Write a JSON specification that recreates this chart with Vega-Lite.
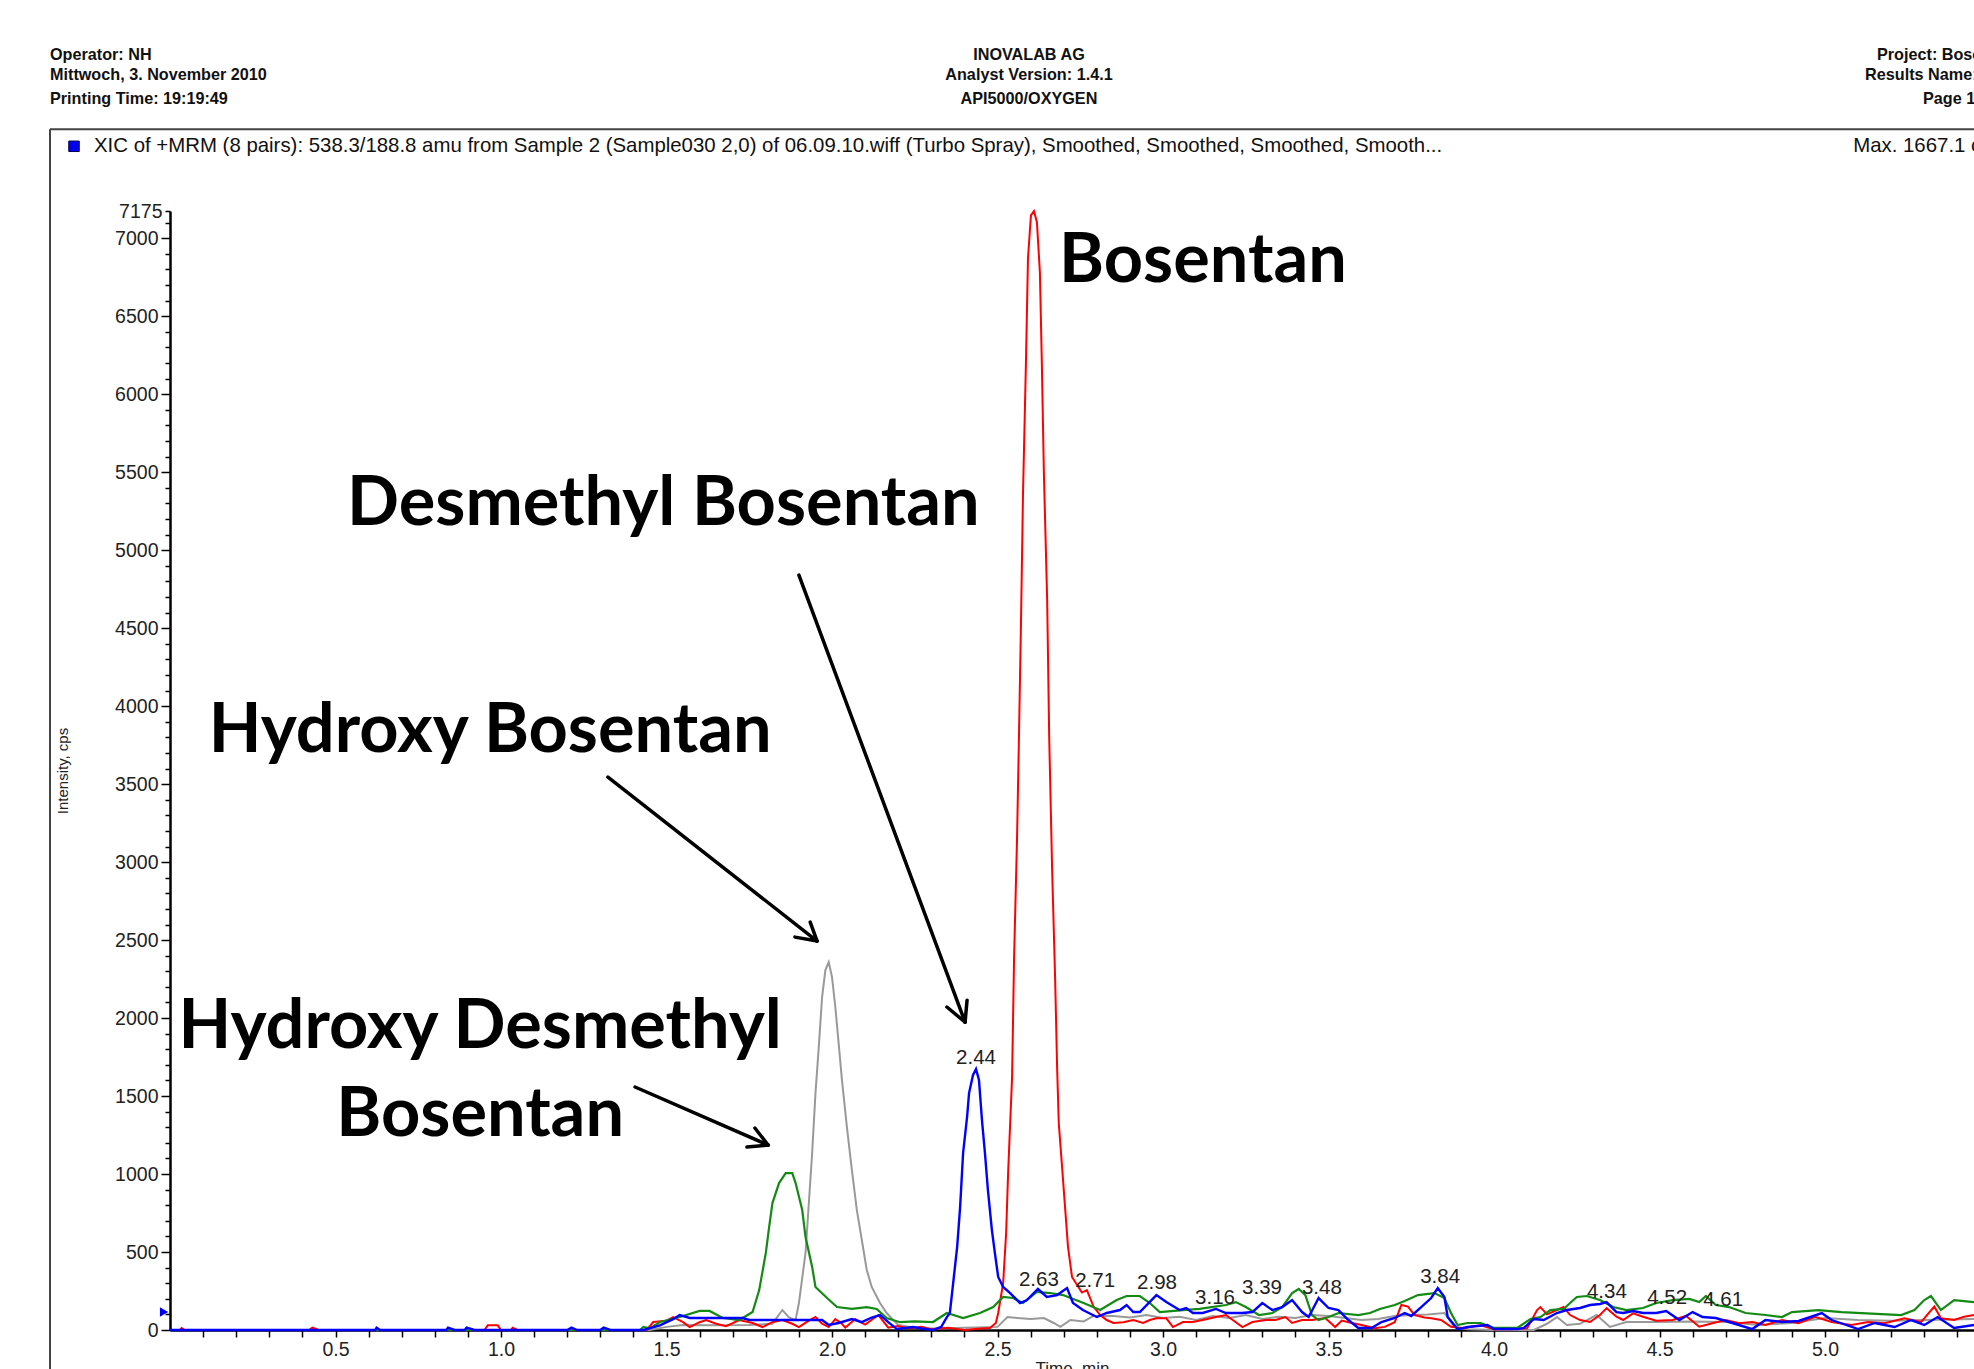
{
"$schema": "https://vega.github.io/schema/vega-lite/v6.json",
"autosize": {"type": "none"},
"width": 1804,
"height": 1119,
"padding": {"left": 170, "top": 211, "right": 0, "bottom": 39},
"background": "white",
"config": {"view": {"stroke": null}},
"datasets": {
"red": [{"t":0,"v":0},{"t":0.03,"v":0},{"t":0.035,"v":12},{"t":0.045,"v":0},{"t":0.42,"v":0},{"t":0.43,"v":15},{"t":0.45,"v":0},{"t":0.95,"v":0},{"t":0.96,"v":30},{"t":0.99,"v":30},{"t":1.0,"v":0},{"t":1.03,"v":0},{"t":1.035,"v":15},{"t":1.05,"v":0},{"t":1.44,"v":0},{"t":1.46,"v":51},{"t":1.5,"v":60},{"t":1.52,"v":83},{"t":1.55,"v":50},{"t":1.57,"v":19},{"t":1.6,"v":50},{"t":1.62,"v":64},{"t":1.65,"v":40},{"t":1.68,"v":25},{"t":1.72,"v":64},{"t":1.76,"v":45},{"t":1.79,"v":19},{"t":1.82,"v":50},{"t":1.85,"v":64},{"t":1.88,"v":40},{"t":1.9,"v":19},{"t":1.93,"v":60},{"t":1.95,"v":83},{"t":1.97,"v":40},{"t":1.99,"v":19},{"t":2.01,"v":70},{"t":2.03,"v":40},{"t":2.04,"v":15},{"t":2.07,"v":70},{"t":2.1,"v":35},{"t":2.14,"v":96},{"t":2.17,"v":15},{"t":2.2,"v":25},{"t":2.23,"v":10},{"t":2.27,"v":20},{"t":2.3,"v":5},{"t":2.35,"v":15},{"t":2.4,"v":0},{"t":2.45,"v":10},{"t":2.477,"v":13},{"t":2.495,"v":45},{"t":2.502,"v":109},{"t":2.517,"v":301},{"t":2.526,"v":622},{"t":2.532,"v":1006},{"t":2.544,"v":1622},{"t":2.55,"v":2385},{"t":2.559,"v":3154},{"t":2.565,"v":3833},{"t":2.571,"v":4551},{"t":2.577,"v":5365},{"t":2.586,"v":6218},{"t":2.592,"v":6872},{"t":2.601,"v":7147},{"t":2.61,"v":7175},{"t":2.619,"v":7103},{"t":2.628,"v":6782},{"t":2.634,"v":6186},{"t":2.64,"v":5500},{"t":2.65,"v":4679},{"t":2.656,"v":3814},{"t":2.665,"v":2949},{"t":2.674,"v":2256},{"t":2.68,"v":1686},{"t":2.685,"v":1327},{"t":2.695,"v":1045},{"t":2.704,"v":788},{"t":2.713,"v":532},{"t":2.725,"v":340},{"t":2.74,"v":290},{"t":2.755,"v":240},{"t":2.77,"v":256},{"t":2.79,"v":150},{"t":2.81,"v":96},{"t":2.83,"v":64},{"t":2.85,"v":45},{"t":2.88,"v":50},{"t":2.91,"v":64},{"t":2.94,"v":45},{"t":2.96,"v":64},{"t":2.98,"v":75},{"t":3.01,"v":75},{"t":3.03,"v":19},{"t":3.06,"v":51},{"t":3.09,"v":51},{"t":3.12,"v":64},{"t":3.16,"v":83},{"t":3.19,"v":96},{"t":3.22,"v":50},{"t":3.24,"v":19},{"t":3.27,"v":51},{"t":3.31,"v":64},{"t":3.34,"v":64},{"t":3.37,"v":83},{"t":3.39,"v":45},{"t":3.42,"v":64},{"t":3.45,"v":64},{"t":3.49,"v":77},{"t":3.52,"v":19},{"t":3.54,"v":60},{"t":3.57,"v":45},{"t":3.6,"v":32},{"t":3.64,"v":11},{"t":3.67,"v":20},{"t":3.7,"v":50},{"t":3.72,"v":160},{"t":3.74,"v":150},{"t":3.76,"v":96},{"t":3.79,"v":80},{"t":3.81,"v":75},{"t":3.84,"v":64},{"t":3.87,"v":21},{"t":3.91,"v":11},{"t":3.93,"v":21},{"t":3.96,"v":30},{"t":4.0,"v":5},{"t":4.05,"v":5},{"t":4.1,"v":11},{"t":4.13,"v":128},{"t":4.14,"v":147},{"t":4.16,"v":100},{"t":4.19,"v":128},{"t":4.21,"v":147},{"t":4.23,"v":96},{"t":4.26,"v":64},{"t":4.29,"v":51},{"t":4.32,"v":96},{"t":4.34,"v":140},{"t":4.37,"v":85},{"t":4.39,"v":64},{"t":4.42,"v":107},{"t":4.45,"v":85},{"t":4.49,"v":60},{"t":4.54,"v":64},{"t":4.58,"v":90},{"t":4.62,"v":21},{"t":4.66,"v":43},{"t":4.7,"v":64},{"t":4.74,"v":43},{"t":4.78,"v":51},{"t":4.82,"v":32},{"t":4.87,"v":64},{"t":4.92,"v":43},{"t":4.97,"v":85},{"t":5.02,"v":51},{"t":5.08,"v":32},{"t":5.13,"v":51},{"t":5.18,"v":43},{"t":5.24,"v":75},{"t":5.29,"v":51},{"t":5.33,"v":150},{"t":5.35,"v":75},{"t":5.39,"v":64},{"t":5.42,"v":85},{"t":5.45,"v":96}],
"blue": [{"t":0,"v":0},{"t":0.62,"v":0},{"t":0.624,"v":15},{"t":0.635,"v":0},{"t":0.835,"v":0},{"t":0.84,"v":15},{"t":0.86,"v":0},{"t":0.89,"v":0},{"t":0.896,"v":15},{"t":0.92,"v":0},{"t":1.2,"v":0},{"t":1.213,"v":15},{"t":1.23,"v":0},{"t":1.3,"v":0},{"t":1.31,"v":15},{"t":1.33,"v":0},{"t":1.43,"v":0},{"t":1.48,"v":30},{"t":1.52,"v":70},{"t":1.54,"v":96},{"t":1.57,"v":77},{"t":1.65,"v":77},{"t":1.73,"v":77},{"t":1.75,"v":64},{"t":1.85,"v":64},{"t":1.97,"v":64},{"t":1.99,"v":32},{"t":2.02,"v":45},{"t":2.06,"v":70},{"t":2.09,"v":50},{"t":2.12,"v":80},{"t":2.145,"v":96},{"t":2.17,"v":50},{"t":2.196,"v":6},{"t":2.245,"v":19},{"t":2.27,"v":10},{"t":2.305,"v":0},{"t":2.33,"v":20},{"t":2.347,"v":83},{"t":2.356,"v":109},{"t":2.366,"v":301},{"t":2.378,"v":532},{"t":2.387,"v":788},{"t":2.396,"v":1135},{"t":2.408,"v":1365},{"t":2.414,"v":1519},{"t":2.426,"v":1635},{"t":2.435,"v":1673},{"t":2.444,"v":1603},{"t":2.453,"v":1346},{"t":2.462,"v":1135},{"t":2.471,"v":897},{"t":2.483,"v":641},{"t":2.492,"v":494},{"t":2.502,"v":340},{"t":2.517,"v":276},{"t":2.538,"v":237},{"t":2.568,"v":173},{"t":2.589,"v":192},{"t":2.622,"v":263},{"t":2.649,"v":212},{"t":2.68,"v":224},{"t":2.71,"v":269},{"t":2.728,"v":173},{"t":2.758,"v":128},{"t":2.8,"v":83},{"t":2.83,"v":109},{"t":2.87,"v":128},{"t":2.89,"v":160},{"t":2.91,"v":115},{"t":2.93,"v":115},{"t":2.98,"v":224},{"t":3.01,"v":179},{"t":3.05,"v":128},{"t":3.07,"v":141},{"t":3.09,"v":109},{"t":3.12,"v":109},{"t":3.16,"v":135},{"t":3.19,"v":109},{"t":3.24,"v":109},{"t":3.27,"v":115},{"t":3.3,"v":173},{"t":3.33,"v":128},{"t":3.36,"v":147},{"t":3.39,"v":192},{"t":3.42,"v":115},{"t":3.44,"v":83},{"t":3.47,"v":205},{"t":3.5,"v":141},{"t":3.53,"v":128},{"t":3.56,"v":64},{"t":3.59,"v":13},{"t":3.63,"v":13},{"t":3.66,"v":51},{"t":3.7,"v":77},{"t":3.73,"v":109},{"t":3.75,"v":90},{"t":3.78,"v":147},{"t":3.81,"v":205},{"t":3.83,"v":269},{"t":3.85,"v":212},{"t":3.86,"v":83},{"t":3.89,"v":6},{"t":3.92,"v":19},{"t":3.98,"v":32},{"t":4.0,"v":6},{"t":4.07,"v":6},{"t":4.09,"v":13},{"t":4.12,"v":70},{"t":4.15,"v":64},{"t":4.19,"v":109},{"t":4.22,"v":128},{"t":4.26,"v":141},{"t":4.29,"v":160},{"t":4.32,"v":167},{"t":4.34,"v":179},{"t":4.37,"v":115},{"t":4.39,"v":109},{"t":4.42,"v":122},{"t":4.45,"v":109},{"t":4.49,"v":109},{"t":4.52,"v":122},{"t":4.56,"v":64},{"t":4.6,"v":115},{"t":4.63,"v":83},{"t":4.67,"v":77},{"t":4.72,"v":45},{"t":4.78,"v":6},{"t":4.82,"v":64},{"t":4.87,"v":51},{"t":4.92,"v":58},{"t":4.99,"v":109},{"t":5.02,"v":64},{"t":5.1,"v":6},{"t":5.15,"v":45},{"t":5.21,"v":19},{"t":5.26,"v":64},{"t":5.3,"v":32},{"t":5.34,"v":83},{"t":5.39,"v":13},{"t":5.45,"v":32}],
"green": [{"t":0,"v":0},{"t":1.42,"v":0},{"t":1.43,"v":20},{"t":1.45,"v":10},{"t":1.48,"v":51},{"t":1.54,"v":83},{"t":1.6,"v":122},{"t":1.63,"v":122},{"t":1.67,"v":77},{"t":1.72,"v":64},{"t":1.76,"v":115},{"t":1.78,"v":256},{"t":1.8,"v":494},{"t":1.81,"v":660},{"t":1.82,"v":814},{"t":1.84,"v":942},{"t":1.86,"v":1006},{"t":1.88,"v":1006},{"t":1.89,"v":942},{"t":1.91,"v":769},{"t":1.92,"v":596},{"t":1.94,"v":404},{"t":1.95,"v":276},{"t":1.985,"v":205},{"t":2.015,"v":147},{"t":2.06,"v":135},{"t":2.105,"v":147},{"t":2.135,"v":135},{"t":2.165,"v":77},{"t":2.205,"v":50},{"t":2.25,"v":55},{"t":2.305,"v":51},{"t":2.347,"v":109},{"t":2.396,"v":77},{"t":2.447,"v":109},{"t":2.487,"v":147},{"t":2.517,"v":212},{"t":2.547,"v":205},{"t":2.577,"v":173},{"t":2.619,"v":244},{"t":2.659,"v":237},{"t":2.698,"v":224},{"t":2.76,"v":173},{"t":2.81,"v":128},{"t":2.86,"v":192},{"t":2.89,"v":218},{"t":2.93,"v":218},{"t":2.96,"v":173},{"t":2.99,"v":115},{"t":3.06,"v":128},{"t":3.11,"v":135},{"t":3.19,"v":160},{"t":3.22,"v":179},{"t":3.25,"v":147},{"t":3.29,"v":96},{"t":3.33,"v":109},{"t":3.36,"v":147},{"t":3.39,"v":237},{"t":3.41,"v":263},{"t":3.43,"v":224},{"t":3.45,"v":96},{"t":3.47,"v":64},{"t":3.5,"v":83},{"t":3.53,"v":109},{"t":3.59,"v":96},{"t":3.625,"v":109},{"t":3.655,"v":135},{"t":3.7,"v":160},{"t":3.73,"v":186},{"t":3.77,"v":224},{"t":3.82,"v":237},{"t":3.85,"v":205},{"t":3.87,"v":109},{"t":3.89,"v":32},{"t":3.92,"v":45},{"t":3.96,"v":45},{"t":4.0,"v":13},{"t":4.07,"v":13},{"t":4.11,"v":70},{"t":4.14,"v":83},{"t":4.17,"v":128},{"t":4.21,"v":135},{"t":4.25,"v":212},{"t":4.28,"v":218},{"t":4.32,"v":192},{"t":4.36,"v":147},{"t":4.4,"v":128},{"t":4.45,"v":141},{"t":4.49,"v":173},{"t":4.54,"v":192},{"t":4.59,"v":199},{"t":4.62,"v":179},{"t":4.64,"v":218},{"t":4.67,"v":160},{"t":4.71,"v":147},{"t":4.76,"v":109},{"t":4.82,"v":96},{"t":4.87,"v":83},{"t":4.9,"v":115},{"t":4.98,"v":128},{"t":5.05,"v":115},{"t":5.23,"v":96},{"t":5.27,"v":128},{"t":5.3,"v":192},{"t":5.32,"v":218},{"t":5.35,"v":128},{"t":5.39,"v":192},{"t":5.45,"v":179}],
"grey": [{"t":0,"v":0},{"t":1.45,"v":0},{"t":1.5,"v":20},{"t":1.55,"v":32},{"t":1.65,"v":30},{"t":1.75,"v":32},{"t":1.82,"v":40},{"t":1.85,"v":128},{"t":1.87,"v":80},{"t":1.89,"v":64},{"t":1.9,"v":173},{"t":1.92,"v":494},{"t":1.93,"v":814},{"t":1.94,"v":1135},{"t":1.95,"v":1519},{"t":1.96,"v":1814},{"t":1.97,"v":2135},{"t":1.98,"v":2308},{"t":1.99,"v":2359},{"t":2.0,"v":2263},{"t":2.01,"v":2071},{"t":2.02,"v":1840},{"t":2.03,"v":1603},{"t":2.045,"v":1301},{"t":2.06,"v":1026},{"t":2.075,"v":769},{"t":2.09,"v":577},{"t":2.105,"v":385},{"t":2.12,"v":276},{"t":2.145,"v":173},{"t":2.165,"v":109},{"t":2.2,"v":32},{"t":2.25,"v":15},{"t":2.3,"v":10},{"t":2.4,"v":15},{"t":2.5,"v":20},{"t":2.53,"v":83},{"t":2.56,"v":77},{"t":2.6,"v":70},{"t":2.64,"v":77},{"t":2.67,"v":45},{"t":2.69,"v":20},{"t":2.72,"v":64},{"t":2.76,"v":55},{"t":2.79,"v":90},{"t":2.85,"v":90},{"t":2.9,"v":80},{"t":2.95,"v":96},{"t":3.0,"v":77},{"t":3.05,"v":85},{"t":3.1,"v":64},{"t":3.15,"v":90},{"t":3.2,"v":77},{"t":3.25,"v":96},{"t":3.3,"v":70},{"t":3.35,"v":85},{"t":3.4,"v":77},{"t":3.45,"v":96},{"t":3.5,"v":90},{"t":3.55,"v":77},{"t":3.6,"v":64},{"t":3.65,"v":70},{"t":3.7,"v":90},{"t":3.75,"v":96},{"t":3.8,"v":100},{"t":3.85,"v":109},{"t":3.88,"v":20},{"t":3.92,"v":5},{"t":4.0,"v":0},{"t":4.12,"v":0},{"t":4.16,"v":40},{"t":4.19,"v":83},{"t":4.22,"v":32},{"t":4.26,"v":40},{"t":4.31,"v":96},{"t":4.35,"v":20},{"t":4.4,"v":51},{"t":4.5,"v":51},{"t":4.6,"v":55},{"t":4.7,"v":51},{"t":4.8,"v":32},{"t":4.9,"v":45},{"t":5.0,"v":77},{"t":5.1,"v":64},{"t":5.2,"v":60},{"t":5.3,"v":64},{"t":5.45,"v":70}],
"peaks": [{"label":"2.44","t":2.435,"v":1744},{"label":"2.63","t":2.625,"v":321},{"label":"2.71","t":2.795,"v":314},{"label":"2.98","t":2.982,"v":301},{"label":"3.16","t":3.157,"v":205},{"label":"3.39","t":3.299,"v":269},{"label":"3.48","t":3.48,"v":269},{"label":"3.84","t":3.837,"v":340},{"label":"4.34","t":4.341,"v":244},{"label":"4.52","t":4.523,"v":205},{"label":"4.61","t":4.692,"v":192}],
"notesLeft": [{"label":"Bosentan","t":2.686,"v":6718},{"label":"Desmethyl Bosentan","t":0.535,"v":5160},{"label":"Hydroxy Bosentan","t":0.117,"v":3705}],
"notesCenter": [{"label":"Hydroxy Desmethyl","t":0.937,"v":1808},{"label":"Bosentan","t":0.937,"v":1244}],
"arrows": [{"t":1.9,"v":4840,"t2":2.402,"v2":1974},{"t":2.347,"v":2071,"t2":2.402,"v2":1974},{"t":2.408,"v":2115,"t2":2.402,"v2":1974},{"t":1.323,"v":3545,"t2":1.955,"v2":2494},{"t":1.888,"v":2519,"t2":1.955,"v2":2494},{"t":1.934,"v":2615,"t2":1.955,"v2":2494},{"t":1.405,"v":1558,"t2":1.807,"v2":1186},{"t":1.743,"v":1173,"t2":1.807,"v2":1186},{"t":1.767,"v":1295,"t2":1.807,"v2":1186}],
"frame": [{"t":-0.3625,"v":7699,"t2":6,"v2":7699},{"t":-0.3625,"v":7699,"t2":-0.3625,"v2":-1000}],
"headLeft": [{"label":"Operator: NH","t":-0.3625,"v":8173},{"label":"Mittwoch, 3. November 2010","t":-0.3625,"v":8045},{"label":"Printing Time: 19:19:49","t":-0.3625,"v":7891},{"label":"Project: Bosentan","t":5.157,"v":8173},{"label":"Results Name: Sample030","t":5.121,"v":8045},{"label":"Page 1 of 1","t":5.296,"v":7891}],
"headCenter": [{"label":"INOVALAB AG","t":2.595,"v":8173},{"label":"Analyst Version: 1.4.1","t":2.595,"v":8045},{"label":"API5000/OXYGEN","t":2.595,"v":7891}],
"titleRow": [{"label":"XIC of +MRM (8 pairs): 538.3/188.8 amu from Sample 2 (Sample030 2,0) of 06.09.10.wiff (Turbo Spray), Smoothed, Smoothed, Smoothed, Smooth...","t":-0.2296,"v":7590},{"label":"Max. 1667.1 cps.","t":5.085,"v":7590}],
"square": [{"t":-0.29,"v":7590}],
"marker": [{"t":-0.018,"v":115}]
},
"encoding": {
"x": {"field": "t", "type": "quantitative",
 "scale": {"domain": [0, 5.45], "nice": false, "zero": false},
 "axis": {"values": [0.1,0.2,0.3,0.4,0.5,0.6,0.7,0.8,0.9,1,1.1,1.2,1.3,1.4,1.5,1.6,1.7,1.8,1.9,2,2.1,2.2,2.3,2.4,2.5,2.6,2.7,2.8,2.9,3,3.1,3.2,3.3,3.4,3.5,3.6,3.7,3.8,3.9,4,4.1,4.2,4.3,4.4,4.5,4.6,4.7,4.8,4.9,5,5.1,5.2,5.3,5.4],
  "format": ".1f",
  "labelExpr": "round(datum.value*10) % 5 === 0 ? datum.label : ''",
  "grid": false, "tickSize": 7, "tickColor": "black", "tickWidth": 1.5,
  "domainColor": "black", "domainWidth": 2.5,
  "labelFont": "Liberation Sans", "labelFontSize": 19.5, "labelColor": "#222", "labelPadding": 3, "labelOverlap": false, "labelFlush": false,
  "title": "Time, min", "titleFont": "Liberation Sans", "titleFontSize": 17, "titleFontWeight": "normal", "titleColor": "#222", "titlePadding": 2}},
"y": {"field": "v", "type": "quantitative",
 "scale": {"domain": [0, 7175], "nice": false},
 "axis": {"values": [0,100,200,300,400,500,600,700,800,900,1000,1100,1200,1300,1400,1500,1600,1700,1800,1900,2000,2100,2200,2300,2400,2500,2600,2700,2800,2900,3000,3100,3200,3300,3400,3500,3600,3700,3800,3900,4000,4100,4200,4300,4400,4500,4600,4700,4800,4900,5000,5100,5200,5300,5400,5500,5600,5700,5800,5900,6000,6100,6200,6300,6400,6500,6600,6700,6800,6900,7000,7100,7175],
  "format": "d",
  "labelExpr": "(datum.value % 500 === 0 || datum.value === 7175) ? datum.label : ''",
  "grid": false,
  "tickSize": {"condition": {"test": "datum.value % 500 === 0", "value": 9}, "value": 5},
  "tickColor": "black", "tickWidth": 1.5,
  "domainColor": "black", "domainWidth": 2.5,
  "labelFont": "Liberation Sans", "labelFontSize": 19.5, "labelColor": "#222", "labelPadding": 3, "labelOverlap": false,
  "title": "Intensity, cps", "titleFont": "Liberation Sans", "titleFontSize": 15, "titleFontWeight": "normal", "titleColor": "#222", "titlePadding": 44}}
},
"layer": [
{"data": {"name": "frame"}, "mark": {"type": "rule", "color": "#444", "strokeWidth": 2},
 "encoding": {"x2": {"field": "t2"}, "y2": {"field": "v2"}}},
{"data": {"name": "grey"}, "mark": {"type": "line", "color": "#999999", "strokeWidth": 2}},
{"data": {"name": "red"}, "mark": {"type": "line", "color": "#ff0000", "strokeWidth": 2}},
{"data": {"name": "green"}, "mark": {"type": "line", "color": "#138a13", "strokeWidth": 2.2}},
{"data": {"name": "blue"}, "mark": {"type": "line", "color": "#0000ff", "strokeWidth": 2.4}},
{"data": {"name": "arrows"}, "mark": {"type": "rule", "color": "black", "strokeWidth": 3.5, "strokeCap": "round"},
 "encoding": {"x2": {"field": "t2"}, "y2": {"field": "v2"}}},
{"data": {"name": "peaks"}, "mark": {"type": "text", "font": "Liberation Sans", "fontSize": 20.5, "color": "#222", "align": "center", "baseline": "middle"},
 "encoding": {"text": {"field": "label"}}},
{"data": {"name": "notesLeft"}, "mark": {"type": "text", "font": "Lato", "fontWeight": "bold", "fontSize": 68.5, "color": "black", "align": "left", "baseline": "alphabetic"},
 "encoding": {"text": {"field": "label"}}},
{"data": {"name": "notesCenter"}, "mark": {"type": "text", "font": "Lato", "fontWeight": "bold", "fontSize": 68.5, "color": "black", "align": "center", "baseline": "alphabetic"},
 "encoding": {"text": {"field": "label"}}},
{"data": {"name": "headLeft"}, "mark": {"type": "text", "font": "Liberation Sans", "fontWeight": "bold", "fontSize": 16.2, "color": "#111", "align": "left", "baseline": "middle"},
 "encoding": {"text": {"field": "label"}}},
{"data": {"name": "headCenter"}, "mark": {"type": "text", "font": "Liberation Sans", "fontWeight": "bold", "fontSize": 16.2, "color": "#111", "align": "center", "baseline": "middle"},
 "encoding": {"text": {"field": "label"}}},
{"data": {"name": "titleRow"}, "mark": {"type": "text", "font": "Liberation Sans", "fontSize": 20.4, "color": "#111", "align": "left", "baseline": "middle"},
 "encoding": {"text": {"field": "label"}}},
{"data": {"name": "square"}, "mark": {"type": "point", "shape": "square", "filled": true, "size": 110, "color": "#0000ee", "stroke": "#000055", "strokeWidth": 1, "opacity": 1}},
{"data": {"name": "marker"}, "mark": {"type": "point", "shape": "triangle-right", "filled": true, "size": 90, "color": "#0000ee", "opacity": 1}}
]
}
